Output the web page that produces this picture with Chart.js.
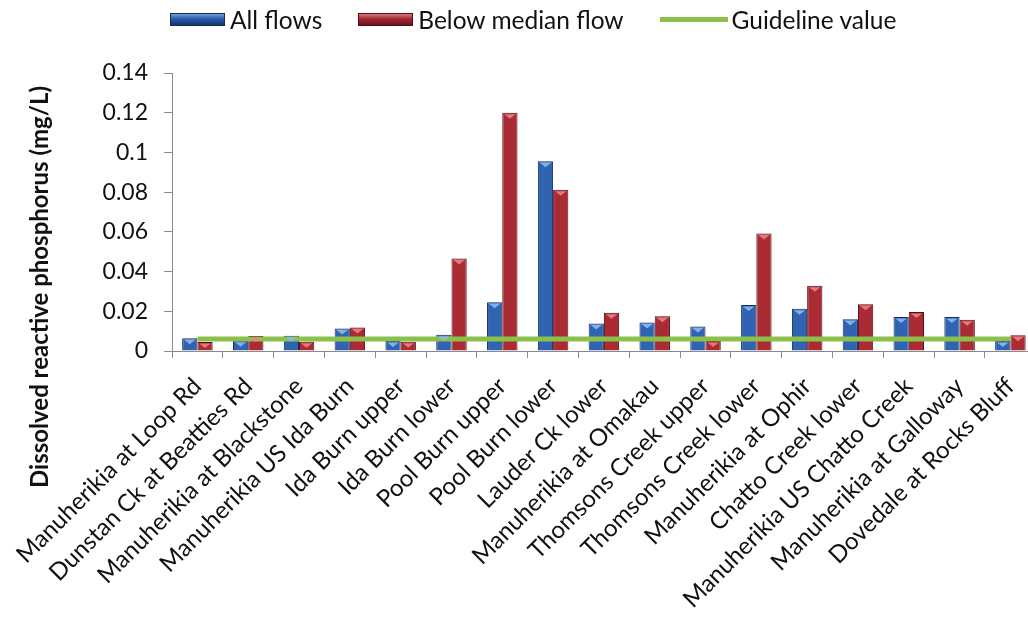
<!DOCTYPE html>
<html>
<head>
<meta charset="utf-8">
<script src="https://cdn.jsdelivr.net/npm/chart.js@4/dist/chart.umd.min.js"></script>
<style>
  html, body { margin: 0; padding: 0; background: #fff; overflow: hidden; }
  #wrap { position: relative; width: 1045px; height: 622px; }
  #legend { position: absolute; left: 170px; top: 3px; height: 32px; display: flex; align-items: center;
            font-family: Lato, "Open Sans", sans-serif; font-size: 24.5px; color: #111; white-space: nowrap; }
  #legend .item { display: flex; align-items: center; margin-right: 36px; }
  #legend .sw { width: 55px; height: 13px; margin-right: 5px; box-sizing: border-box; }
  #legend .ln { width: 68px; height: 5px; margin-right: 4px; }
</style>
</head>
<body>
<div id="wrap">
  <canvas id="c" width="1045" height="622"></canvas>
  <div id="legend"></div>
</div>
<script>
// Monitoring sites along the Manuherikia catchment
const sites = [
  "Manuherikia at Loop Rd", "Dunstan Ck at Beatties Rd", "Manuherikia at Blackstone",
  "Manuherikia US Ida Burn", "Ida Burn upper", "Ida Burn lower", "Pool Burn upper",
  "Pool Burn lower", "Lauder Ck lower", "Manuherikia at Omakau", "Thomsons Creek upper",
  "Thomsons Creek lower", "Manuherikia at Ophir", "Chatto Creek lower",
  "Manuherikia US Chatto Creek", "Manuherikia at Galloway", "Dovedale at Rocks Bluff"
];

// Dissolved reactive phosphorus (mg/L)
const allFlows = [0.0064, 0.0052, 0.0077, 0.0113, 0.005, 0.0082, 0.0245, 0.0955, 0.0138,
                  0.0143, 0.0123, 0.0232, 0.0213, 0.016, 0.0171, 0.0171, 0.005];
const belowMedian = [0.0045, 0.0075, 0.0047, 0.0118, 0.0047, 0.0466, 0.12, 0.0812, 0.0193,
                     0.0175, 0.005, 0.0592, 0.0328, 0.0235, 0.0197, 0.0158, 0.0079];
const guideline = [0.006, 0.006, 0.006, 0.006, 0.006, 0.006, 0.006, 0.006, 0.006,
                   0.006, 0.006, 0.006, 0.006, 0.006, 0.006, 0.006, 0.006];

const seriesNames = ["All flows", "Below median flow", "Guideline value"];
const yTicks = { min: 0, max: 0.14, step: 0.02 };
const yTitle = "Dissolved reactive phosphorus (mg/L)";

const FONT = 'Lato, "Open Sans", sans-serif';

// cylinder-like shading across each bar
function barGradient(dark, light) {
  return (ctx) => {
    const el = ctx.element;
    if (!el || el.width === undefined) return light;
    const x0 = el.x - el.width / 2, x1 = el.x + el.width / 2;
    const g = ctx.chart.ctx.createLinearGradient(x0, 0, x1, 0);
    g.addColorStop(0, dark);
    g.addColorStop(0.45, light);
    g.addColorStop(1, dark);
    return g;
  };
}

// small bevel highlight at the top of every bar
const bevelPlugin = {
  id: 'bevel',
  afterDatasetsDraw(chart) {
    const c = chart.ctx;
    chart.data.datasets.forEach((ds, i) => {
      if (ds.type === 'line') return;
      const meta = chart.getDatasetMeta(i);
      meta.data.forEach(bar => {
        const h = bar.base - bar.y;
        if (h < 6) return;
        const w = bar.width;
        c.save();
        c.fillStyle = ds.bevel;
        c.beginPath();
        c.moveTo(bar.x - w / 2 + 2, bar.y + 1.5);
        c.lineTo(bar.x + w / 2 - 2, bar.y + 1.5);
        c.lineTo(bar.x, bar.y + 6);
        c.closePath();
        c.fill();
        c.restore();
      });
    });
  }
};

// vertical axis title beside the plot
const titlePlugin = {
  id: 'yTitle',
  afterDraw(chart) {
    const c = chart.ctx;
    c.save();
    c.translate(40, 287);
    c.rotate(-Math.PI / 2);
    c.font = 'bold 24px ' + FONT;
    c.fillStyle = '#111';
    c.textAlign = 'center';
    c.textBaseline = 'middle';
    c.fillText(yTitle, 0, 0);
    c.restore();
  }
};

const chart = new Chart(document.getElementById('c'), {
  data: {
    labels: sites,
    datasets: [
      { type: 'line', label: seriesNames[2], data: guideline, borderColor: '#8cc04c',
        borderWidth: 5, pointRadius: 0, order: 0, fill: false },
      { type: 'bar', label: seriesNames[0], data: allFlows,
        backgroundColor: barGradient('#173670', '#3064b2'), borderColor: '#142d58',
        borderWidth: 1, bevel: 'rgba(140,185,240,0.9)', order: 1 },
      { type: 'bar', label: seriesNames[1], data: belowMedian,
        backgroundColor: barGradient('#6c151d', '#ab2b35'), borderColor: '#540e15',
        borderWidth: 1, bevel: 'rgba(235,130,130,0.9)', order: 1 }
    ]
  },
  options: {
    responsive: false,
    animation: false,
    layout: { padding: { top: 73, right: 8, left: 0, bottom: 0 } },
    datasets: { bar: { categoryPercentage: 0.6, barPercentage: 1.0 } },
    plugins: { legend: { display: false }, tooltip: { enabled: false } },
    scales: {
      x: {
        offset: true,
        grid: { offset: true, drawOnChartArea: false, drawTicks: true, tickLength: 7, color: '#8a8a8a' },
        border: { color: '#8a8a8a', width: 1 },
        ticks: { font: { family: FONT, size: 24 }, color: '#111', maxRotation: 45, minRotation: 45,
                 autoSkip: false, padding: 14 },
        afterFit(scale) { scale.height = 271; }
      },
      y: {
        min: yTicks.min, max: yTicks.max,
        grid: { drawOnChartArea: false, drawTicks: true, tickLength: 8, color: '#8a8a8a' },
        border: { color: '#8a8a8a', width: 1 },
        ticks: { stepSize: yTicks.step, font: { family: FONT, size: 23 }, color: '#111', padding: 16,
                 callback: (v) => String(+v.toFixed(2)) },
        afterFit(scale) { scale.width = 172; }
      }
    }
  },
  plugins: [bevelPlugin, titlePlugin]
});

// legend row
const legend = document.getElementById('legend');
const swatches = [
  { kind: 'box', bg: 'linear-gradient(#6f9fe0, #2a5aa6 45%, #173670)', border: '#142d58' },
  { kind: 'box', bg: 'linear-gradient(#d97a80, #a02630 45%, #6c151d)', border: '#540e15' },
  { kind: 'line', bg: '#8cc04c' }
];
seriesNames.forEach((name, i) => {
  const item = document.createElement('span');
  item.className = 'item';
  const sw = document.createElement('span');
  const s = swatches[i];
  sw.className = s.kind === 'box' ? 'sw' : 'ln';
  sw.style.background = s.bg;
  if (s.border) sw.style.border = '1px solid ' + s.border;
  const t = document.createElement('span');
  t.textContent = name;
  item.appendChild(sw);
  item.appendChild(t);
  legend.appendChild(item);
});
</script>
</body>
</html>
